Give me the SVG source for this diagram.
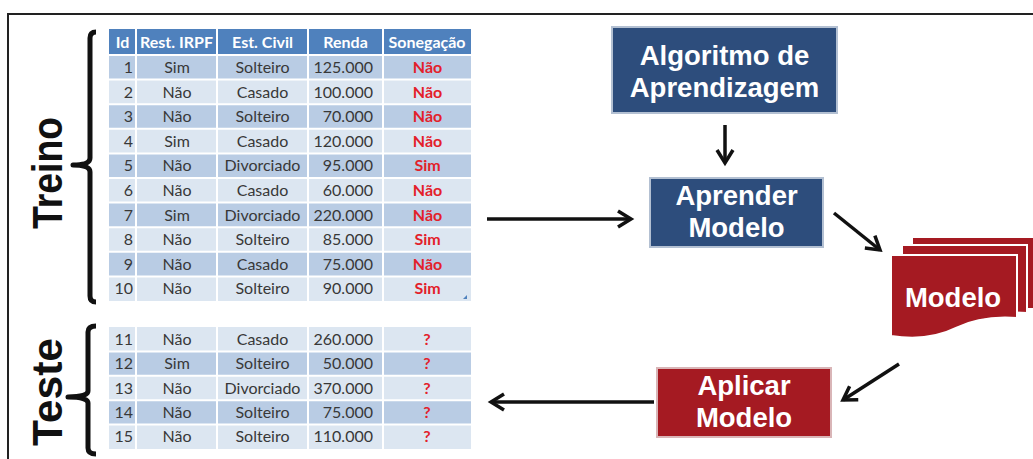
<svg xmlns="http://www.w3.org/2000/svg" width="1033" height="459" viewBox="0 0 1033 459">
  <style>
    .hdr { font-family: Lato, "Liberation Sans", sans-serif; font-size: 16px; font-weight: bold; fill: #ffffff; }
    .cell { font-family: Lato, "Liberation Sans", sans-serif; font-size: 16px; fill: #383838; }
    .ans { font-family: Lato, "Liberation Sans", sans-serif; font-size: 16px; font-weight: bold; fill: #e3202a; }
    .mid { text-anchor: middle; }
    .end { text-anchor: end; }
    .dark { fill: #b9cce4; }
    .light { fill: #dce6f1; }
    .box-blue { fill: #2d4d7c; stroke: #b3c0d2; stroke-width: 2; }
    .box-red { fill: #a51a22; stroke: #d9b5b7; stroke-width: 2; }
    .sheet { fill: #a51a22; stroke: #ffffff; stroke-width: 2; }
    .lbl { font-family: "Liberation Sans", Arial, sans-serif; font-size: 27.5px; font-weight: bold; fill: #ffffff; text-anchor: middle; }
    .side { font-family: "Liberation Sans", Arial, sans-serif; font-size: 43px; font-weight: bold; fill: #111111; text-anchor: middle; }
    .brace { fill: none; stroke: #111111; stroke-width: 5; stroke-linejoin: round; }
    .link { fill: none; stroke: #111111; stroke-width: 3.5; }
    .grid { stroke: #ffffff; stroke-width: 2; }
  </style>
  <defs>
    <marker id="head" markerUnits="userSpaceOnUse" markerWidth="20" markerHeight="20" viewBox="-16 -10 20 20" refX="0" refY="0" orient="auto">
      <path d="M-13,-8 L0,0 L-13,8" fill="none" stroke="#111111" stroke-width="3.5" stroke-linejoin="miter"/>
    </marker>
  </defs>

  <rect width="1033" height="459" fill="#ffffff"/>
  <!-- outer frame -->
  <rect x="8" y="14" width="1040" height="470" fill="none" stroke="#222222" stroke-width="2"/>

  <!-- side labels and braces -->
  <g id="treino">
    <text class="side" transform="translate(62,173) rotate(-90)" textLength="112" lengthAdjust="spacingAndGlyphs">Treino</text>
    <path class="brace" d="M96,32 Q90,32 90,38 L90,158 Q90,165 73,165 Q90,165 90,172 L90,296 Q90,302 96,302"/>
  </g>
  <g id="teste">
    <text class="side" transform="translate(62,392) rotate(-90)" textLength="108" lengthAdjust="spacingAndGlyphs">Teste</text>
    <path class="brace" d="M96,326 Q88,326 88,332 L88,391 Q88,397 68,397 Q88,397 88,403 L88,448 Q88,454 96,454"/>
  </g>

  <!-- training table -->
  <g id="train-table">
    <rect x="109" y="29" width="362" height="26" fill="#4f81bd"/>
    <rect class="dark" x="109" y="55" width="362" height="24.6"/>
    <rect class="light" x="109" y="79.6" width="362" height="24.6"/>
    <rect class="dark" x="109" y="104.2" width="362" height="24.6"/>
    <rect class="light" x="109" y="128.8" width="362" height="24.6"/>
    <rect class="dark" x="109" y="153.4" width="362" height="24.6"/>
    <rect class="light" x="109" y="178" width="362" height="24.6"/>
    <rect class="dark" x="109" y="202.6" width="362" height="24.6"/>
    <rect class="light" x="109" y="227.2" width="362" height="24.6"/>
    <rect class="dark" x="109" y="251.8" width="362" height="24.6"/>
    <rect class="light" x="109" y="276.4" width="362" height="24.6"/>
    <g class="grid">
      <line x1="136" y1="29" x2="136" y2="301"/>
      <line x1="217" y1="29" x2="217" y2="301"/>
      <line x1="308" y1="29" x2="308" y2="301"/>
      <line x1="383" y1="29" x2="383" y2="301"/>
      <line x1="109" y1="55" x2="471" y2="55"/>
      <line x1="109" y1="79.6" x2="471" y2="79.6"/>
      <line x1="109" y1="104.2" x2="471" y2="104.2"/>
      <line x1="109" y1="128.8" x2="471" y2="128.8"/>
      <line x1="109" y1="153.4" x2="471" y2="153.4"/>
      <line x1="109" y1="178" x2="471" y2="178"/>
      <line x1="109" y1="202.6" x2="471" y2="202.6"/>
      <line x1="109" y1="227.2" x2="471" y2="227.2"/>
      <line x1="109" y1="251.8" x2="471" y2="251.8"/>
      <line x1="109" y1="276.4" x2="471" y2="276.4"/>
    </g>
    <path d="M467,295 L467,299 L463,299 Z" fill="#4f81bd"/>

    <text class="hdr mid" x="122.5" y="48">Id</text>
    <text class="hdr mid" x="176.5" y="48">Rest. IRPF</text>
    <text class="hdr mid" x="262.5" y="48">Est. Civil</text>
    <text class="hdr mid" x="345.5" y="48">Renda</text>
    <text class="hdr mid" x="427" y="48">Sonegação</text>

    <g class="cell end">
      <text x="133" y="73">1</text>
      <text x="133" y="97.5">2</text>
      <text x="133" y="122">3</text>
      <text x="133" y="146.5">4</text>
      <text x="133" y="171">5</text>
      <text x="133" y="196">6</text>
      <text x="133" y="220.5">7</text>
      <text x="133" y="245">8</text>
      <text x="133" y="269.5">9</text>
      <text x="133" y="294">10</text>
    </g>
    <g class="cell mid">
      <text x="177" y="73">Sim</text>
      <text x="177" y="97.5">Não</text>
      <text x="177" y="122">Não</text>
      <text x="177" y="146.5">Sim</text>
      <text x="177" y="171">Não</text>
      <text x="177" y="196">Não</text>
      <text x="177" y="220.5">Sim</text>
      <text x="177" y="245">Não</text>
      <text x="177" y="269.5">Não</text>
      <text x="177" y="294">Não</text>
    </g>
    <g class="cell mid">
      <text x="262.5" y="73">Solteiro</text>
      <text x="262.5" y="97.5">Casado</text>
      <text x="262.5" y="122">Solteiro</text>
      <text x="262.5" y="146.5">Casado</text>
      <text x="262.5" y="171">Divorciado</text>
      <text x="262.5" y="196">Casado</text>
      <text x="262.5" y="220.5">Divorciado</text>
      <text x="262.5" y="245">Solteiro</text>
      <text x="262.5" y="269.5">Casado</text>
      <text x="262.5" y="294">Solteiro</text>
    </g>
    <g class="cell end">
      <text x="373" y="73">125.000</text>
      <text x="373" y="97.5">100.000</text>
      <text x="373" y="122">70.000</text>
      <text x="373" y="146.5">120.000</text>
      <text x="373" y="171">95.000</text>
      <text x="373" y="196">60.000</text>
      <text x="373" y="220.5">220.000</text>
      <text x="373" y="245">85.000</text>
      <text x="373" y="269.5">75.000</text>
      <text x="373" y="294">90.000</text>
    </g>
    <g class="ans mid">
      <text x="427.5" y="73">Não</text>
      <text x="427.5" y="97.5">Não</text>
      <text x="427.5" y="122">Não</text>
      <text x="427.5" y="146.5">Não</text>
      <text x="427.5" y="171">Sim</text>
      <text x="427.5" y="196">Não</text>
      <text x="427.5" y="220.5">Não</text>
      <text x="427.5" y="245">Sim</text>
      <text x="427.5" y="269.5">Não</text>
      <text x="427.5" y="294">Sim</text>
    </g>
  </g>

  <!-- test table -->
  <g id="test-table">
    <rect class="light" x="109" y="327" width="362" height="24.4"/>
    <rect class="dark" x="109" y="351.4" width="362" height="24.4"/>
    <rect class="light" x="109" y="375.8" width="362" height="24.4"/>
    <rect class="dark" x="109" y="400.2" width="362" height="24.4"/>
    <rect class="light" x="109" y="424.6" width="362" height="24.4"/>
    <g class="grid">
      <line x1="136" y1="327" x2="136" y2="449"/>
      <line x1="217" y1="327" x2="217" y2="449"/>
      <line x1="308" y1="327" x2="308" y2="449"/>
      <line x1="383" y1="327" x2="383" y2="449"/>
      <line x1="109" y1="351.4" x2="471" y2="351.4"/>
      <line x1="109" y1="375.8" x2="471" y2="375.8"/>
      <line x1="109" y1="400.2" x2="471" y2="400.2"/>
      <line x1="109" y1="424.6" x2="471" y2="424.6"/>
    </g>
    <g class="cell end">
      <text x="133" y="344.5">11</text>
      <text x="133" y="369">12</text>
      <text x="133" y="393.5">13</text>
      <text x="133" y="418">14</text>
      <text x="133" y="442">15</text>
    </g>
    <g class="cell mid">
      <text x="177" y="344.5">Não</text>
      <text x="177" y="369">Sim</text>
      <text x="177" y="393.5">Não</text>
      <text x="177" y="418">Não</text>
      <text x="177" y="442">Não</text>
    </g>
    <g class="cell mid">
      <text x="262.5" y="344.5">Casado</text>
      <text x="262.5" y="369">Solteiro</text>
      <text x="262.5" y="393.5">Divorciado</text>
      <text x="262.5" y="418">Solteiro</text>
      <text x="262.5" y="442">Solteiro</text>
    </g>
    <g class="cell end">
      <text x="373" y="344.5">260.000</text>
      <text x="373" y="369">50.000</text>
      <text x="373" y="393.5">370.000</text>
      <text x="373" y="418">75.000</text>
      <text x="373" y="442">110.000</text>
    </g>
    <g class="ans mid">
      <text x="427" y="344.5">?</text>
      <text x="427" y="369">?</text>
      <text x="427" y="393.5">?</text>
      <text x="427" y="418">?</text>
      <text x="427" y="442">?</text>
    </g>
  </g>

  <!-- process boxes -->
  <g id="algoritmo">
    <rect class="box-blue" x="612" y="27" width="225" height="86"/>
    <text class="lbl" x="724.5" y="65">Algoritmo de</text>
    <text class="lbl" x="724.5" y="97">Aprendizagem</text>
  </g>
  <g id="aprender">
    <rect class="box-blue" x="650" y="178" width="173" height="69"/>
    <text class="lbl" x="736.5" y="205">Aprender</text>
    <text class="lbl" x="736.5" y="237">Modelo</text>
  </g>
  <g id="modelo">
    <rect class="sheet" x="912" y="237" width="130" height="72"/>
    <path class="sheet" d="M902,245 H1027 V313 C1000,311 985,315 970,320 L902,320 Z"/>
    <path class="sheet" d="M891,255 H1017 V318 C990,316 972,320 956,328 C940,336 918,340 891,336 Z"/>
    <text class="lbl" x="953" y="307">Modelo</text>
  </g>
  <g id="aplicar">
    <rect class="box-red" x="657" y="368" width="174" height="69"/>
    <text class="lbl" x="744" y="395">Aplicar</text>
    <text class="lbl" x="744" y="427">Modelo</text>
  </g>

  <!-- connectors -->
  <g id="connectors">
    <line class="link" x1="725" y1="125" x2="725" y2="163" marker-end="url(#head)"/>
    <line class="link" x1="487" y1="219" x2="631" y2="219" marker-end="url(#head)"/>
    <line class="link" x1="834" y1="213" x2="880" y2="250" marker-end="url(#head)"/>
    <line class="link" x1="899" y1="364" x2="843" y2="400" marker-end="url(#head)"/>
    <line class="link" x1="654" y1="402" x2="491" y2="402" marker-end="url(#head)"/>
  </g>
</svg>
